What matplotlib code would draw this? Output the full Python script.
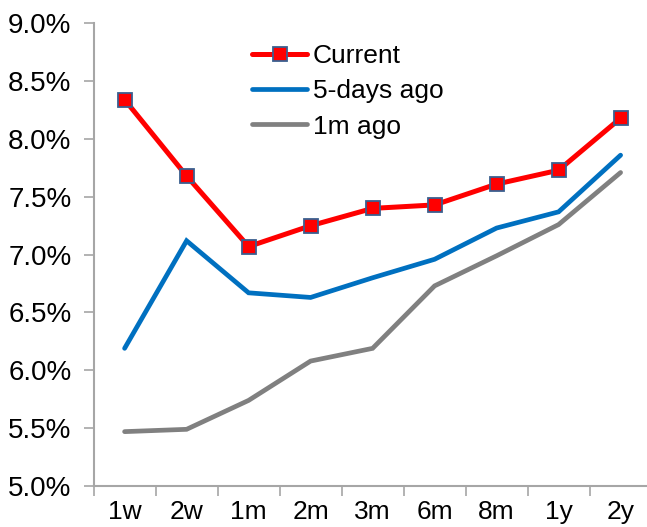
import matplotlib
matplotlib.use("Agg")
import matplotlib.pyplot as plt
from matplotlib.ticker import FuncFormatter, FixedLocator, NullFormatter

plt.rcParams['font.family'] = ['Liberation Sans', 'DejaVu Sans']

tenors = ["1w", "2w", "1m", "2m", "3m", "6m", "8m", "1y", "2y"]
current = [8.34, 7.68, 7.07, 7.25, 7.40, 7.43, 7.61, 7.73, 8.18]
five_days_ago = [6.19, 7.12, 6.67, 6.63, 6.80, 6.96, 7.23, 7.37, 7.86]
one_month_ago = [5.47, 5.49, 5.74, 6.08, 6.19, 6.73, 6.99, 7.26, 7.71]

W, H = 647, 527
fig = plt.figure(figsize=(W / 100, H / 100), dpi=100)
ax = fig.add_axes([93.6 / W, (H - 486) / H, 558 / W, 462.7 / H])

x = list(range(len(tenors)))
axis_grey = "#a6a6a6"

ax.plot(x, one_month_ago, color="#808080", lw=3.4, solid_capstyle="round",
        solid_joinstyle="miter", label="1m ago", zorder=2)
ax.plot(x, five_days_ago, color="#0070c0", lw=3.4, solid_capstyle="round",
        solid_joinstyle="miter", label="5-days ago", zorder=3)
ax.plot(x, current, color="#ff0000", lw=3.6, solid_capstyle="round",
        marker="s", markersize=10, markerfacecolor="#ff0000",
        markeredgecolor="#3a5f8f", markeredgewidth=1.3,
        label="Current", zorder=4)

ax.set_xlim(-0.5, len(tenors) - 0.5)
ax.set_ylim(5.0, 9.0)
ax.set_yticks([5.0 + 0.5 * i for i in range(9)])
ax.yaxis.set_major_formatter(FuncFormatter(lambda v, p: f"{v:.1f}%"))

# category labels centred, tick marks on the boundaries between categories
ax.xaxis.set_major_locator(FixedLocator([i - 0.5 for i in range(len(tenors) + 1)]))
ax.xaxis.set_major_formatter(NullFormatter())
ax.xaxis.set_minor_locator(FixedLocator(x))
ax.set_xticklabels(tenors, minor=True)
ax.tick_params(axis="x", which="minor", length=0, pad=10, labelsize=19)
ax.tick_params(axis="x", which="major", length=7, width=1.2, color=axis_grey, direction="out")
ax.tick_params(axis="y", length=7, width=1.2, color=axis_grey, direction="out",
               labelsize=20, pad=9)

for side in ("top", "right"):
    ax.spines[side].set_visible(False)
for side in ("left", "bottom"):
    ax.spines[side].set_color(axis_grey)
    ax.spines[side].set_linewidth(1.5)

handles, labels = ax.get_legend_handles_labels()
order = [2, 1, 0]
leg = ax.legend([handles[i] for i in order], [labels[i] for i in order],
                loc="upper left", bbox_to_anchor=(252 / W, 1 - 44 / H),
                bbox_transform=fig.transFigure, frameon=False, fontsize=19,
                handlelength=2.1, handletextpad=0.2, labelspacing=0.43,
                borderpad=0, borderaxespad=0)

fig.savefig("out.png", dpi=100)
